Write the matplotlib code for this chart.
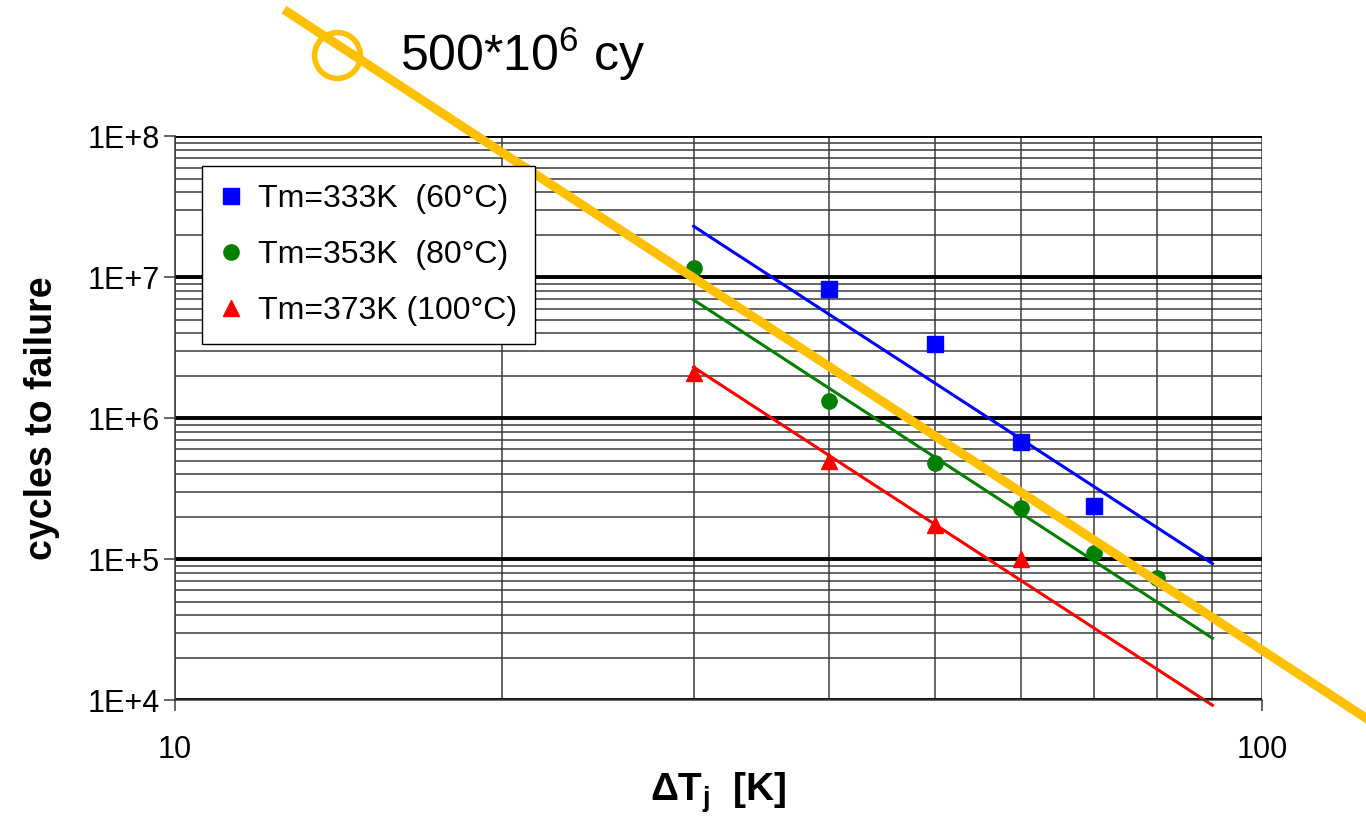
import matplotlib
matplotlib.use("Agg")
import matplotlib.pyplot as plt
from matplotlib.ticker import LogLocator, FixedLocator, NullFormatter

plt.rcParams['font.family'] = ['Liberation Sans', 'DejaVu Sans']
plt.rcParams['mathtext.fontset'] = 'custom'
plt.rcParams['mathtext.rm'] = 'Liberation Sans'
plt.rcParams['mathtext.bf'] = 'Liberation Sans:bold'

# measured points (delta Tj in K, cycles to failure)
x_333 = [40, 50, 60, 70]
n_333 = [8.2e6, 3.35e6, 6.8e5, 2.4e5]
x_353 = [30, 40, 50, 60, 70, 80]
n_353 = [1.16e7, 1.32e6, 4.8e5, 2.3e5, 1.1e5, 7.4e4]
x_373 = [30, 40, 50, 60]
n_373 = [2.1e6, 5.0e5, 1.75e5, 1.0e5]

# fit lines (end points)
fit_x = [30, 90]
fit_333 = [2.3e7, 9.3e4]
fit_353 = [6.9e6, 2.75e4]
fit_373 = [2.3e6, 9.2e3]

# orange marker line
mark_x = [12.7, 124.6]
mark_n = [7.6e8, 7.45e3]
circle_x = [14.1]
circle_n = [3.75e8]

labels = ["Tm=333K  (60°C)", "Tm=353K  (80°C)", "Tm=373K (100°C)"]
orange = "#FFC000"

fig = plt.figure(figsize=(13.66, 8.16), dpi=100)
ax = fig.add_axes([0.128, 0.142, 0.796, 0.691])
ax.set_xscale("log")
ax.set_yscale("log")
ax.set_xlim(10, 100)
ax.set_ylim(1e4, 1e8)

# grid
ax.xaxis.set_minor_locator(FixedLocator([20, 30, 40, 50, 60, 70, 80, 90]))
ax.xaxis.set_minor_formatter(NullFormatter())
ax.yaxis.set_major_locator(LogLocator(base=10, numticks=10))
ax.yaxis.set_minor_locator(LogLocator(base=10, subs=range(2, 10), numticks=20))
ax.yaxis.set_minor_formatter(NullFormatter())
ax.grid(True, which="minor", axis="both", color="#3a3a3a", linewidth=1.1)
ax.grid(True, which="major", axis="x", color="#3a3a3a", linewidth=1.1)
ax.grid(True, which="major", axis="y", color="black", linewidth=2.8)
ax.set_axisbelow(True)

ax.set_yticks([1e4, 1e5, 1e6, 1e7, 1e8])
ax.set_yticklabels(["1E+4", "1E+5", "1E+6", "1E+7", "1E+8"])
ax.set_xticks([10, 100])
ax.set_xticklabels(["10", "100"])
ax.tick_params(which="major", direction="out", length=8, width=1.1,
               color="#3a3a3a", labelsize=22)
ax.tick_params(axis="y", pad=3)
ax.tick_params(axis="x", pad=17)
ax.tick_params(which="minor", length=0)

for s in ["top", "right"]:
    ax.spines[s].set_visible(False)
for s in ["left", "bottom"]:
    ax.spines[s].set_color("#3a3a3a")
    ax.spines[s].set_linewidth(1.1)

ax.plot(fit_x, fit_333, color="#0000ff", linewidth=2.2)
ax.plot(fit_x, fit_353, color="#008000", linewidth=2.2)
ax.plot(fit_x, fit_373, color="#ff0000", linewidth=2.2, clip_on=False)

ax.plot(x_333, n_333, "s", color="#0000ff", markersize=12, label=labels[0])
ax.plot(x_353, n_353, "o", color="#008000", markersize=11, label=labels[1])
ax.plot(x_373, n_373, "^", color="#ff0000", markersize=12, label=labels[2])

leg = ax.legend(loc="upper left", bbox_to_anchor=(0.025, 0.947), borderaxespad=0,
                fontsize=23, fancybox=False, framealpha=1, edgecolor="black",
                handlelength=0.7, handletextpad=0.5, labelspacing=0.82,
                borderpad=0.55)
leg.get_frame().set_linewidth(1.0)

ax.plot(mark_x, mark_n, color=orange, linewidth=6.5, clip_on=False, zorder=5)
ax.plot(circle_x, circle_n, "o", markersize=33, markerfacecolor="none",
        markeredgecolor=orange, markeredgewidth=4, clip_on=False, zorder=5)

fig.text(0.293, 0.913, "500*10$^6$ cy", fontsize=36, ha="left", va="baseline")

ax.set_ylabel("cycles to failure", fontsize=27, fontweight="bold", labelpad=20)
ax.set_xlabel("ΔT$_\\mathbf{j}$  [K]", fontsize=28, fontweight="bold", labelpad=4)

fig.savefig("out.png", dpi=100)
